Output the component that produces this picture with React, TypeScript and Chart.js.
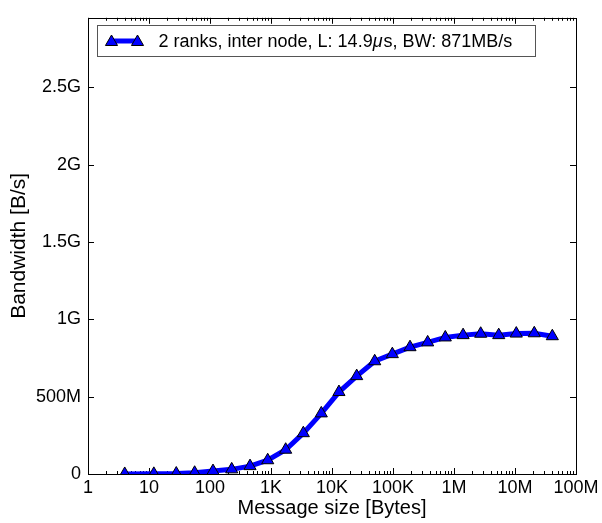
import { useEffect, useRef } from "react";
import { Chart, registerables } from "chart.js";

Chart.register(...registerables);

// Message sizes in bytes and the measured bandwidth in bytes per second
const messageSizes = [
  4, 12, 28, 56, 112, 227, 453, 883, 1740, 3390, 6680, 13000, 25400, 50100,
  97500, 190000, 370000, 720000, 1410000, 2740000, 5410000, 10500000, 20700000,
  40900000,
];
const bandwidth = [
  0.3e6, 1e6, 3e6, 8e6, 19e6, 30e6, 51e6, 89e6, 157e6, 264e6, 392e6, 530e6,
  633e6, 729e6, 775e6, 820e6, 851e6, 883e6, 898e6, 907e6, 898e6, 908e6, 910e6,
  891e6,
];

const xTickValues = [1, 10, 100, 1e3, 1e4, 1e5, 1e6, 1e7, 1e8];
const xTickLabels = ["1", "10", "100", "1K", "10K", "100K", "1M", "10M", "100M"];
const yTickValues = [0, 5e8, 1e9, 1.5e9, 2e9, 2.5e9];
const yTickLabels = ["0", "500M", "1G", "1.5G", "2G", "2.5G"];

const seriesLabel = "2 ranks, inter node, L: 14.9μs, BW: 871MB/s";
const xTitle = "Message size [Bytes]";
const yTitle = "Bandwidth [B/s]";

const FONT = "'Liberation Sans', Arial, Helvetica, sans-serif";
const LINE_BLUE = "#0000ff";

function drawTriangle(ctx: CanvasRenderingContext2D, x: number, y: number, r: number) {
  ctx.beginPath();
  for (let i = 0; i < 3; i++) {
    const a = (i * 2 * Math.PI) / 3;
    const px = x + Math.sin(a) * r;
    const py = y - Math.cos(a) * r;
    if (i === 0) ctx.moveTo(px, py);
    else ctx.lineTo(px, py);
  }
  ctx.closePath();
  ctx.fillStyle = LINE_BLUE;
  ctx.fill();
  ctx.lineWidth = 1;
  ctx.strokeStyle = "#000";
  ctx.stroke();
}

// Frame around the plot with inward-pointing tick marks on all four sides
const framePlugin = {
  id: "frameTicks",
  beforeDatasetsDraw(chart: any) {
    const { ctx, chartArea: a, scales } = chart;
    const xs = scales.x;
    const ys = scales.y;
    ctx.save();
    ctx.strokeStyle = "#000";
    ctx.lineWidth = 1;
    const major = 6;
    const minor = 3;
    ctx.beginPath();
    // x: major decades and 2..9 minors
    for (let d = 0; d < 8; d++) {
      for (let m = 1; m < 10; m++) {
        const v = Math.pow(10, d) * m;
        const px = Math.round(xs.getPixelForValue(v)) + 0.5;
        const len = m === 1 ? major : minor;
        ctx.moveTo(px, a.bottom);
        ctx.lineTo(px, a.bottom - len);
        ctx.moveTo(px, a.top);
        ctx.lineTo(px, a.top + len);
      }
    }
    for (const v of yTickValues) {
      const py = Math.round(ys.getPixelForValue(v)) + 0.5;
      ctx.moveTo(a.left, py);
      ctx.lineTo(a.left + major, py);
      ctx.moveTo(a.right, py);
      ctx.lineTo(a.right - major, py);
    }
    ctx.stroke();
    ctx.strokeRect(
      Math.round(a.left) + 0.5,
      Math.round(a.top) + 0.5,
      Math.round(a.right - a.left),
      Math.round(a.bottom - a.top)
    );
    ctx.restore();
  },
};

// Boxed legend in the upper-left corner of the plot
const legendPlugin = {
  id: "boxLegend",
  afterDraw(chart: any) {
    const { ctx, chartArea: a } = chart;
    const label: string = chart.data.datasets[0].label;
    const bx = Math.round(a.left) + 9.5;
    const by = Math.round(a.top) + 7.5;
    const bw = 438;
    const bh = 31;
    ctx.save();
    ctx.fillStyle = "#fff";
    ctx.fillRect(bx, by, bw, bh);
    ctx.strokeStyle = "#555";
    ctx.lineWidth = 1;
    ctx.strokeRect(bx, by, bw, bh);

    const cy = by + bh / 2;
    const x1 = bx + 14;
    const x2 = bx + 40;
    ctx.strokeStyle = LINE_BLUE;
    ctx.lineWidth = 5;
    ctx.beginPath();
    ctx.moveTo(x1, cy);
    ctx.lineTo(x2, cy);
    ctx.stroke();
    drawTriangle(ctx, x1, cy + 1, 7);
    drawTriangle(ctx, x2, cy + 1, 7);

    ctx.fillStyle = "#000";
    ctx.textBaseline = "middle";
    ctx.textAlign = "left";
    const parts = label.split("μ");
    let tx = bx + 61;
    const normal = `18px ${FONT}`;
    const italic = `italic 18px ${FONT}`;
    ctx.font = normal;
    ctx.fillText(parts[0], tx, cy + 1);
    tx += ctx.measureText(parts[0]).width;
    if (parts.length > 1) {
      ctx.font = italic;
      ctx.fillText("μ", tx, cy + 1);
      tx += ctx.measureText("μ").width + 1;
      ctx.font = normal;
      ctx.fillText(parts[1], tx, cy + 1);
    }
    ctx.restore();
  },
};

export default function App() {
  const canvasRef = useRef<HTMLCanvasElement | null>(null);

  useEffect(() => {
    const canvas = canvasRef.current;
    if (!canvas) return;
    const chart = new Chart(canvas, {
      type: "line",
      data: {
        datasets: [
          {
            label: seriesLabel,
            data: messageSizes.map((x, i) => ({ x, y: bandwidth[i] })),
            borderColor: LINE_BLUE,
            borderWidth: 5,
            backgroundColor: LINE_BLUE,
            pointStyle: "triangle",
            pointRadius: 7,
            pointBackgroundColor: LINE_BLUE,
            pointBorderColor: "#000",
            pointBorderWidth: 1,
            tension: 0,
            clip: 0,
          },
        ],
      },
      options: {
        animation: false,
        responsive: false,
        maintainAspectRatio: false,
        layout: { padding: { top: 10, right: 26, left: 0, bottom: 0 } },
        plugins: {
          legend: { display: false },
          tooltip: { enabled: false },
        },
        scales: {
          x: {
            type: "logarithmic",
            min: 1,
            max: 1e8,
            grid: { display: false, drawTicks: false },
            border: { display: false },
            afterBuildTicks: (scale: any) => {
              scale.ticks = xTickValues.map((value) => ({ value }));
            },
            afterFit: (scale: any) => {
              scale.height = 49;
            },
            ticks: {
              autoSkip: false,
              maxRotation: 0,
              padding: 3,
              color: "#000",
              font: { family: FONT, size: 18 },
              callback: (value: any) => {
                const i = xTickValues.indexOf(Number(value));
                return i >= 0 ? xTickLabels[i] : "";
              },
            },
            title: {
              display: true,
              text: xTitle,
              color: "#000",
              font: { family: FONT, size: 20 },
              padding: { top: 0, bottom: 3 },
            },
          },
          y: {
            type: "linear",
            min: 0,
            max: 2.95e9,
            grid: { display: false, drawTicks: false },
            border: { display: false },
            afterBuildTicks: (scale: any) => {
              scale.ticks = yTickValues.map((value) => ({ value }));
            },
            afterFit: (scale: any) => {
              scale.width = 88;
            },
            ticks: {
              padding: 7,
              color: "#000",
              font: { family: FONT, size: 18 },
              callback: (value: any) => {
                const i = yTickValues.indexOf(Number(value));
                return i >= 0 ? yTickLabels[i] : "";
              },
            },
            title: {
              display: true,
              text: yTitle,
              color: "#000",
              font: { family: FONT, size: 21 },
              padding: { top: 7, bottom: 0 },
            },
          },
        },
      },
      plugins: [framePlugin, legendPlugin],
    });
    return () => chart.destroy();
  }, []);

  return (
    <div style={{ position: "absolute", left: 0, top: 0, width: 602, height: 523, background: "#fff" }}>
      <canvas ref={canvasRef} width={602} height={523} style={{ display: "block" }} />
    </div>
  );
}
